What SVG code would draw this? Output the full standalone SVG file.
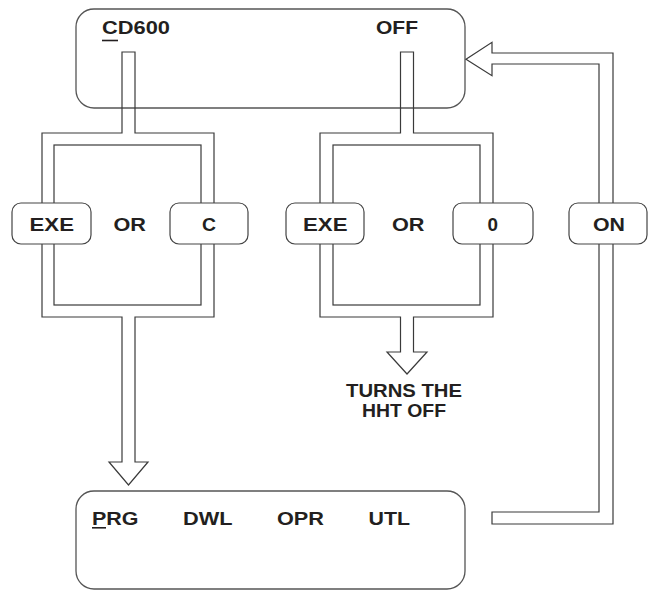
<svg xmlns="http://www.w3.org/2000/svg" width="648" height="590" viewBox="0 0 648 590">
<style>
  .box { fill: #ffffff; stroke: #555555; stroke-width: 1.3; }
  .btn { fill: #ffffff; stroke: #444444; stroke-width: 1.2; }
  .pipe { fill: none; stroke: #3a3a3a; stroke-width: 1.2; stroke-linejoin: miter; }
  .pipew { fill: #ffffff; stroke: #3a3a3a; stroke-width: 1.2; stroke-linejoin: miter; }
  .t { font-family: "Liberation Sans", Arial, sans-serif; font-weight: bold; font-size: 19px; fill: #231f20; }
  .ul { stroke: #231f20; stroke-width: 1.6; }
</style>
<rect width="648" height="590" fill="#ffffff"/>

<g id="top-box">
  <rect class="box" x="76" y="9" width="389" height="99" rx="18" ry="18"/>
  <text class="t" x="102" y="34" textLength="68" lengthAdjust="spacingAndGlyphs">CD600</text>
  <line class="ul" x1="102" y1="40.5" x2="118" y2="40.5"/>
  <text class="t" x="376" y="34" textLength="42" lengthAdjust="spacingAndGlyphs">OFF</text>
</g>

<g id="bottom-box">
  <rect class="box" x="76" y="491" width="389" height="98" rx="18" ry="18"/>
  <text class="t" x="92" y="525" textLength="46.5" lengthAdjust="spacingAndGlyphs">PRG</text>
  <line class="ul" x1="92" y1="527.8" x2="106" y2="527.8"/>
  <text class="t" x="183" y="525" textLength="49.5" lengthAdjust="spacingAndGlyphs">DWL</text>
  <text class="t" x="277" y="525" textLength="47" lengthAdjust="spacingAndGlyphs">OPR</text>
  <text class="t" x="368.5" y="525" textLength="41.5" lengthAdjust="spacingAndGlyphs">UTL</text>
</g>

<g id="connectors">
  <!-- left: CD600 -> (EXE or C) -> PRG -->
  <path class="pipe" d="M122,133 V52 H135 V133 H214 V317 H135 V462 H148 L128.5,485 L109,462 H122 V317 H42 V133 Z"/>
  <rect class="pipe" x="54" y="145" width="147" height="160"/>
  <!-- middle: OFF -> (EXE or 0) -> turns HHT off -->
  <path class="pipe" d="M400.5,133 V52 H413.5 V133 H493 V317 H413.5 V352 H427 L407,374 L387,352 H400.5 V317 H320 V133 Z"/>
  <rect class="pipe" x="333" y="145" width="147" height="160"/>
  <!-- right: menu -> ON -> top box -->
  <path class="pipew" d="M492,512 H599 V64 H492 V75.7 L466,59.3 L492,42.3 V53 H613 V524 H492 Z"/>
</g>

<g id="btn-exe-1">
  <rect class="btn" x="12" y="203" width="79" height="41" rx="9" ry="9"/>
  <text class="t" x="29.5" y="230.5" textLength="44.5" lengthAdjust="spacingAndGlyphs">EXE</text>
</g>
<g id="or-1">
  <text class="t" x="113.5" y="230.5" textLength="32.5" lengthAdjust="spacingAndGlyphs">OR</text>
</g>
<g id="btn-c">
  <rect class="btn" x="170" y="203" width="78" height="41" rx="9" ry="9"/>
  <text class="t" x="202" y="230.5" textLength="14" lengthAdjust="spacingAndGlyphs">C</text>
</g>

<g id="btn-exe-2">
  <rect class="btn" x="286" y="203" width="78" height="41" rx="9" ry="9"/>
  <text class="t" x="303" y="230.5" textLength="44.5" lengthAdjust="spacingAndGlyphs">EXE</text>
</g>
<g id="or-2">
  <text class="t" x="392" y="230.5" textLength="32.5" lengthAdjust="spacingAndGlyphs">OR</text>
</g>
<g id="btn-0">
  <rect class="btn" x="453" y="203" width="80" height="41" rx="9" ry="9"/>
  <text class="t" x="487.5" y="230.5" textLength="10.5" lengthAdjust="spacingAndGlyphs">0</text>
</g>

<g id="btn-on">
  <rect class="btn" x="569" y="203" width="78" height="41" rx="9" ry="9"/>
  <text class="t" x="593" y="230.5" textLength="32" lengthAdjust="spacingAndGlyphs">ON</text>
</g>

<g id="turns-off">
  <text class="t" x="346" y="397" textLength="116" lengthAdjust="spacingAndGlyphs">TURNS THE</text>
  <text class="t" x="362" y="417" textLength="84" lengthAdjust="spacingAndGlyphs">HHT OFF</text>
</g>
</svg>
